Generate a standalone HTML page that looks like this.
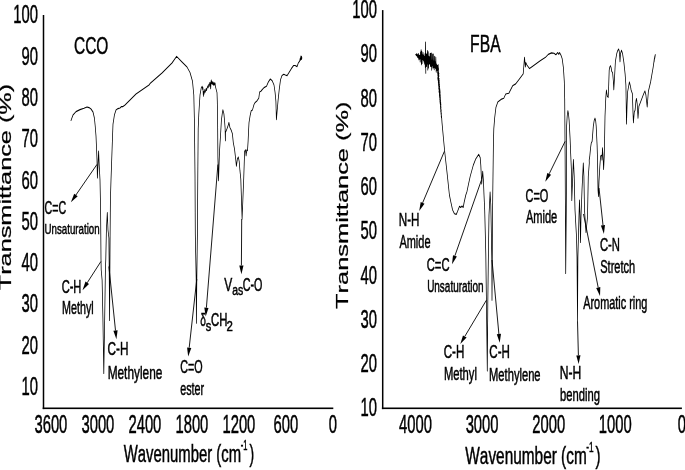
<!DOCTYPE html>
<html><head><meta charset="utf-8"><title>FTIR spectra</title>
<style>html,body{margin:0;padding:0;background:#fff}svg{display:block}text{font-family:"Liberation Sans",sans-serif;fill:#000;stroke:#000;stroke-width:.5px;font-kerning:none}</style>
</head><body>
<svg width="685" height="470" viewBox="0 0 685 470">
<rect width="685" height="470" fill="#fff"/>
<rect x="42.75" y="15.0" width="1.5" height="394.1" fill="#000"/>
<rect x="42.7" y="407.5" width="290.6" height="1.6" fill="#000"/>
<text transform="translate(13.31,23.45) scale(0.578,1)" font-size="25.60">100</text>
<text transform="translate(21.54,64.73) scale(0.578,1)" font-size="25.60">90</text>
<text transform="translate(21.54,106.01) scale(0.578,1)" font-size="25.60">80</text>
<text transform="translate(21.54,147.29) scale(0.578,1)" font-size="25.60">70</text>
<text transform="translate(21.54,188.57) scale(0.578,1)" font-size="25.60">60</text>
<text transform="translate(21.54,229.85) scale(0.578,1)" font-size="25.60">50</text>
<text transform="translate(21.54,271.13) scale(0.578,1)" font-size="25.60">40</text>
<text transform="translate(21.54,312.41) scale(0.578,1)" font-size="25.60">30</text>
<text transform="translate(21.54,353.69) scale(0.578,1)" font-size="25.60">20</text>
<text transform="translate(21.54,394.97) scale(0.578,1)" font-size="25.60">10</text>
<text transform="translate(34.44,433.10) scale(0.578,1)" font-size="25.60">3600</text>
<text transform="translate(81.44,433.10) scale(0.578,1)" font-size="25.60">3000</text>
<text transform="translate(128.44,433.10) scale(0.578,1)" font-size="25.60">2400</text>
<text transform="translate(175.44,433.10) scale(0.578,1)" font-size="25.60">1800</text>
<text transform="translate(222.44,433.10) scale(0.578,1)" font-size="25.60">1200</text>
<text transform="translate(273.56,433.10) scale(0.578,1)" font-size="25.60">600</text>
<text transform="translate(328.79,433.10) scale(0.578,1)" font-size="25.60">0</text>
<text transform="translate(123.83,461.70) scale(0.620,1)" font-size="23.98">Wavenumber (cm</text>
<text transform="translate(240.77,449.70) scale(0.524,1)" font-size="14.39">-1</text>
<text transform="translate(249.62,461.70) scale(0.582,1)" font-size="23.98">)</text>
<text transform="translate(11.45,290.3) rotate(-90) scale(1,0.655)" font-size="25.3" style="stroke-width:.35px">Transmittance (%)</text>
<text transform="translate(74.02,53.90) scale(0.633,1)" font-size="24.42">CCO</text>
<text transform="translate(44.46,213.90) scale(0.583,1)" font-size="18.31">C=C</text>
<text transform="translate(44.55,234.20) scale(0.631,1)" font-size="15.41">Unsaturation</text>
<text transform="translate(61.64,292.60) scale(0.612,1)" font-size="18.17">C-H</text>
<text transform="translate(62.02,314.20) scale(0.607,1)" font-size="17.73">Methyl</text>
<text transform="translate(107.60,354.50) scale(0.634,1)" font-size="18.60">C-H</text>
<text transform="translate(107.63,378.90) scale(0.653,1)" font-size="18.17">Methylene</text>
<text transform="translate(180.15,372.60) scale(0.593,1)" font-size="18.17">C=O</text>
<text transform="translate(180.24,395.00) scale(0.593,1)" font-size="18.17">ester</text>
<text transform="translate(200.37,326.40) scale(0.564,1)" font-size="18.02">δ</text>
<text transform="translate(205.69,330.60) scale(0.765,1)" font-size="14.39">s</text>
<text transform="translate(211.02,326.40) scale(0.651,1)" font-size="17.44">CH</text>
<text transform="translate(226.43,330.60) scale(0.793,1)" font-size="14.39">2</text>
<text transform="translate(224.25,290.50) scale(0.677,1)" font-size="17.73">V</text>
<text transform="translate(232.16,295.00) scale(0.725,1)" font-size="14.39">as</text>
<text transform="translate(242.75,290.60) scale(0.608,1)" font-size="17.73">C-O</text>
<line x1="97.0" y1="164.4" x2="75.9" y2="195.0" stroke="#000" stroke-width="0.9"/>
<polygon points="70.9,202.3 74.2,193.8 77.7,196.2" fill="#000"/>
<line x1="100.9" y1="261.5" x2="87.2" y2="282.8" stroke="#000" stroke-width="0.9"/>
<polygon points="82.5,290.2 85.5,281.6 89.0,283.9" fill="#000"/>
<line x1="108.9" y1="266.5" x2="115.5" y2="330.5" stroke="#000" stroke-width="0.9"/>
<polygon points="116.4,339.3 113.4,330.8 117.6,330.3" fill="#000"/>
<line x1="196.8" y1="279.0" x2="189.2" y2="347.7" stroke="#000" stroke-width="0.9"/>
<polygon points="188.2,356.5 187.1,347.5 191.3,348.0" fill="#000"/>
<line x1="217.9" y1="164.5" x2="206.4" y2="307.7" stroke="#000" stroke-width="0.9"/>
<polygon points="205.7,316.5 204.3,307.6 208.5,307.9" fill="#000"/>
<line x1="241.7" y1="219.0" x2="241.4" y2="265.4" stroke="#000" stroke-width="0.9"/>
<polygon points="241.4,274.2 239.3,265.4 243.5,265.4" fill="#000"/>
<path transform="scale(1,1.5)" d="M71.0,80.27 L73.0,76.67 L76.0,74.40 L80.0,73.07 L84.0,72.20 L87.0,71.33 L89.0,71.73 L91.0,72.67 L93.0,74.67 L94.4,78.67 L95.2,84.00 L96.0,90.67 L96.6,100.00 L97.0,106.67 L97.4,118.67 L98.0,110.00 L98.6,100.67 L99.2,110.00 L100.0,120.00 L100.6,140.00 L101.0,172.67 L101.2,180.00 L102.1,186.67 L102.9,212.00 L103.8,249.00 L104.7,212.00 L105.4,180.00 L105.8,172.67 L106.4,153.33 L107.3,141.67 L108.0,153.33 L108.9,158.67 L109.2,180.00 L109.6,213.67 L109.9,180.00 L110.1,158.00 L110.4,133.33 L111.0,120.00 L112.4,93.33 L113.0,82.67 L114.4,76.67 L116.0,73.33 L118.0,72.40 L120.0,72.00 L121.5,71.00 L123.0,71.07 L125.0,70.00 L136.0,62.67 L149.0,56.67 L150.0,55.73 L162.0,48.67 L172.0,42.00 L176.6,37.60 L182.0,41.33 L187.0,44.67 L190.0,48.33 L192.5,54.20 L193.8,63.33 L194.4,80.00 L195.0,116.67 L195.3,156.00 L196.2,186.67 L196.4,215.47 L196.8,186.67 L197.4,156.00 L197.8,116.67 L198.2,86.00 L198.8,76.00 L200.0,63.33 L201.3,58.40 L202.2,57.53 L202.6,59.67 L202.9,58.33 L203.2,62.00 L203.4,64.20 L203.7,61.00 L204.0,62.80 L204.4,61.33 L204.8,59.73 L205.1,61.47 L205.7,60.47 L206.2,59.00 L206.5,60.33 L206.9,59.20 L207.8,57.33 L208.2,58.40 L208.8,56.27 L209.3,57.47 L209.7,55.20 L210.1,55.00 L210.4,57.33 L210.7,59.20 L211.0,54.67 L211.3,53.33 L211.7,55.87 L212.0,54.33 L212.6,56.27 L213.0,54.67 L213.4,56.80 L214.1,55.00 L214.5,56.67 L215.1,55.47 L215.4,57.73 L215.7,58.40 L217.0,61.73 L217.3,67.60 L217.6,80.00 L217.9,105.07 L218.5,120.40 L219.5,100.93 L220.7,88.33 L221.4,80.13 L222.4,75.13 L222.9,73.27 L223.9,75.93 L224.5,80.13 L225.1,85.33 L225.4,93.80 L225.5,88.33 L227.0,85.87 L228.3,83.33 L228.9,81.67 L229.9,85.00 L231.4,87.13 L232.4,89.20 L233.3,95.07 L234.5,99.27 L235.8,106.80 L236.4,110.80 L237.4,105.93 L238.3,104.67 L239.2,107.60 L239.9,113.47 L240.8,119.33 L242.1,146.00 L243.7,119.33 L244.2,109.27 L244.6,100.93 L245.5,99.93 L246.1,103.87 L246.7,100.07 L247.5,100.47 L248.1,94.20 L248.6,86.67 L249.0,81.80 L250.2,76.80 L251.2,73.87 L252.5,73.27 L254.0,69.67 L255.2,68.27 L257.1,67.13 L258.8,65.47 L259.6,61.33 L260.9,60.87 L262.1,59.87 L264.0,58.40 L266.5,57.53 L268.4,54.60 L270.3,52.67 L272.2,53.80 L274.0,56.67 L275.1,61.73 L275.9,67.60 L276.4,79.73 L277.4,72.00 L278.1,66.80 L279.3,59.27 L280.5,53.20 L282.0,50.40 L283.8,49.53 L285.3,50.00 L287.1,50.40 L289.1,48.20 L291.4,45.67 L293.6,43.67 L295.1,43.67 L297.1,44.40 L298.2,42.13 L299.7,40.67 L300.2,38.93 L300.4,40.13 L300.9,37.33 L301.1,39.53 L301.5,37.60 L301.9,38.60 L301.4,39.60 L301.2,38.20 L300.7,39.87 L301.0,38.00" fill="none" stroke="#000" stroke-width="0.75" stroke-linejoin="round" stroke-linecap="round"/>
<rect x="381.95" y="10.1" width="1.5" height="399" fill="#000"/>
<rect x="381.9" y="407.5" width="300" height="1.6" fill="#000"/>
<text transform="translate(352.31,18.15) scale(0.578,1)" font-size="25.60">100</text>
<text transform="translate(360.54,62.40) scale(0.578,1)" font-size="25.60">90</text>
<text transform="translate(360.54,106.65) scale(0.578,1)" font-size="25.60">80</text>
<text transform="translate(360.54,150.90) scale(0.578,1)" font-size="25.60">70</text>
<text transform="translate(360.54,195.15) scale(0.578,1)" font-size="25.60">60</text>
<text transform="translate(360.54,239.40) scale(0.578,1)" font-size="25.60">50</text>
<text transform="translate(360.54,283.65) scale(0.578,1)" font-size="25.60">40</text>
<text transform="translate(360.54,327.90) scale(0.578,1)" font-size="25.60">30</text>
<text transform="translate(360.54,372.15) scale(0.578,1)" font-size="25.60">20</text>
<text transform="translate(360.54,416.40) scale(0.578,1)" font-size="25.60">10</text>
<text transform="translate(399.04,433.10) scale(0.578,1)" font-size="25.60">4000</text>
<text transform="translate(465.64,433.10) scale(0.578,1)" font-size="25.60">3000</text>
<text transform="translate(532.24,433.10) scale(0.578,1)" font-size="25.60">2000</text>
<text transform="translate(598.84,433.10) scale(0.578,1)" font-size="25.60">1000</text>
<text transform="translate(677.79,433.10) scale(0.578,1)" font-size="25.60">0</text>
<text transform="translate(465.33,463.60) scale(0.642,1)" font-size="23.98">Wavenumber (cm</text>
<text transform="translate(586.33,451.60) scale(0.576,1)" font-size="14.39">-1</text>
<text transform="translate(595.61,463.60) scale(0.629,1)" font-size="23.98">)</text>
<text transform="translate(348.0,308.9) rotate(-90) scale(1,0.63)" font-size="25.4" style="stroke-width:.35px">Transmittance (%)</text>
<text transform="translate(470.11,51.70) scale(0.639,1)" font-size="24.56">FBA</text>
<text transform="translate(398.84,225.80) scale(0.646,1)" font-size="18.02">N-H</text>
<text transform="translate(399.38,248.30) scale(0.614,1)" font-size="17.88">Amide</text>
<text transform="translate(426.73,271.20) scale(0.614,1)" font-size="18.31">C=C</text>
<text transform="translate(427.13,291.70) scale(0.635,1)" font-size="15.70">Unsaturation</text>
<text transform="translate(443.71,357.50) scale(0.644,1)" font-size="18.02">C-H</text>
<text transform="translate(443.88,379.80) scale(0.633,1)" font-size="17.73">Methyl</text>
<text transform="translate(489.31,357.60) scale(0.644,1)" font-size="18.02">C-H</text>
<text transform="translate(489.08,381.00) scale(0.630,1)" font-size="17.73">Methylene</text>
<text transform="translate(525.54,201.90) scale(0.590,1)" font-size="18.60">C=O</text>
<text transform="translate(525.88,223.20) scale(0.615,1)" font-size="18.02">Amide</text>
<text transform="translate(559.70,379.10) scale(0.685,1)" font-size="17.73">N-H</text>
<text transform="translate(559.98,400.50) scale(0.644,1)" font-size="17.44">bending</text>
<text transform="translate(599.93,250.50) scale(0.617,1)" font-size="18.31">C-N</text>
<text transform="translate(600.20,272.80) scale(0.613,1)" font-size="18.02">Stretch</text>
<text transform="translate(583.18,309.20) scale(0.615,1)" font-size="17.73">Aromatic ring</text>
<line x1="444.4" y1="151.3" x2="422.6" y2="202.9" stroke="#000" stroke-width="0.9"/>
<polygon points="419.2,211.0 420.7,202.1 424.5,203.7" fill="#000"/>
<line x1="481.4" y1="180.2" x2="454.9" y2="255.8" stroke="#000" stroke-width="0.9"/>
<polygon points="452.0,264.2 453.0,255.2 456.9,256.5" fill="#000"/>
<line x1="486.4" y1="300.2" x2="464.8" y2="336.4" stroke="#000" stroke-width="0.9"/>
<polygon points="460.3,344.0 463.0,335.4 466.6,337.5" fill="#000"/>
<line x1="492.0" y1="260.0" x2="498.9" y2="334.0" stroke="#000" stroke-width="0.9"/>
<polygon points="499.7,342.8 496.8,334.2 501.0,333.8" fill="#000"/>
<line x1="565.1" y1="141.4" x2="549.2" y2="173.8" stroke="#000" stroke-width="0.9"/>
<polygon points="545.3,181.7 547.3,172.9 551.1,174.7" fill="#000"/>
<line x1="577.5" y1="321.5" x2="578.4" y2="355.3" stroke="#000" stroke-width="0.9"/>
<polygon points="578.6,364.1 576.3,355.4 580.5,355.2" fill="#000"/>
<line x1="583.5" y1="214.0" x2="598.2" y2="287.5" stroke="#000" stroke-width="0.9"/>
<polygon points="600.0,296.1 596.2,287.9 600.3,287.0" fill="#000"/>
<line x1="599.0" y1="188.0" x2="603.0" y2="225.2" stroke="#000" stroke-width="0.9"/>
<polygon points="603.9,234.0 600.9,225.5 605.0,225.0" fill="#000"/>
<path transform="scale(1,1.5)" d="M415.7,36.40 L416.0,36.27 L416.3,36.97 L416.6,35.82 L417.0,37.49 L417.3,36.13 L417.6,38.21 L417.9,36.64 L418.2,38.69 L418.6,35.75 L418.9,39.86 L419.2,36.87 L419.5,39.23 L419.8,36.86 L420.2,41.23 L420.5,34.67 L420.8,39.13 L421.1,33.17 L421.4,43.20 L421.8,34.22 L422.1,42.34 L422.4,36.61 L422.7,39.80 L423.0,34.98 L423.4,40.22 L423.7,36.76 L424.0,41.31 L424.3,37.70 L424.6,42.63 L425.0,35.80 L425.3,44.76 L425.6,28.00 L425.8,48.87 L425.6,35.59 L425.9,44.00 L426.2,35.87 L426.6,44.37 L426.9,36.27 L427.2,42.64 L427.5,33.64 L427.8,46.61 L428.2,34.62 L428.5,45.27 L428.8,37.57 L429.1,42.95 L429.4,37.94 L429.8,42.32 L430.1,35.76 L430.4,44.17 L430.7,35.61 L431.0,44.26 L431.4,35.31 L431.7,46.71 L432.0,40.26 L432.3,43.73 L432.6,36.07 L433.0,45.24 L433.3,36.00 L433.6,45.12 L433.9,40.67 L434.2,46.48 L434.6,37.54 L434.9,44.98 L435.2,41.30 L435.5,45.65 L435.8,38.12 L436.2,48.05 L436.5,42.65 L436.8,46.28 L437.1,43.46 L437.4,46.06 L436.8,44.18 L438.3,43.25 L437.2,45.47 L438.2,43.66 L437.3,45.89 L438.3,45.02 L437.0,47.00 L438.4,44.73 L437.4,47.33 L438.7,45.86 L437.6,48.66 L438.5,47.24 L437.4,48.73 L438.6,48.28 L437.8,49.72 L438.6,48.13 L437.8,50.32 L439.0,49.06 L437.8,51.47 L438.8,50.34 L437.7,52.15 L438.9,51.02 L437.9,53.01 L438.9,50.48 L438.0,53.40 L439.1,52.63 L438.3,54.50 L439.1,52.36 L438.3,55.09 L439.3,53.78 L438.5,55.72 L439.2,54.62 L438.4,56.59 L439.4,55.27 L438.4,56.67 L439.3,56.02 L438.7,57.26 L439.4,56.59 L438.7,58.06 L439.6,56.45 L438.7,59.32 L439.7,57.69 L439.0,59.44 L439.6,57.88 L439.0,61.10 L439.7,59.07 L439.1,61.60 L439.8,59.20 L439.3,62.15 L440.0,60.10 L439.3,63.04 L440.1,60.81 L439.4,63.75 L440.2,61.61 L439.5,64.59 L440.2,62.85 L439.6,64.92 L440.2,63.52 L439.8,65.91 L440.4,63.80 L439.7,66.39 L440.4,65.03 L439.9,67.57 L440.4,65.48 L440.1,68.07 L440.5,67.08 L440.0,68.70 L440.6,66.67 L440.2,68.94 L440.6,67.80 L440.3,69.84 L440.8,68.57 L440.4,71.29 L440.8,69.29 L440.5,71.56 L440.9,69.61 L440.5,72.25 L440.9,71.34 L440.7,73.10 L441.0,71.19 L440.7,74.28 L441.1,73.05 L440.8,74.34 L441.1,73.38 L440.9,75.29 L441.2,73.40 L441.0,75.99 L441.2,75.48 L441.1,76.31 L441.4,75.32 L441.2,77.79 L441.4,76.77 L441.3,77.76 L441.5,77.34 L441.4,78.51 L441.6,77.72 L442.0,81.73 L443.6,93.33 L444.8,101.67 L446.9,114.27 L449.4,130.00 L450.7,134.20 L452.6,140.00 L454.5,142.53 L456.3,142.93 L457.6,140.87 L459.5,137.53 L460.7,138.33 L462.0,137.33 L463.2,138.33 L464.1,135.00 L465.8,130.00 L467.0,127.60 L468.3,123.47 L470.2,117.60 L473.3,110.07 L475.8,105.87 L478.7,102.93 L480.2,105.07 L480.8,110.07 L481.4,118.40 L481.7,122.60 L482.7,114.27 L483.4,120.00 L484.0,130.00 L484.7,140.00 L485.8,169.33 L486.4,200.00 L487.3,247.33 L487.8,202.67 L488.4,169.33 L489.0,143.33 L489.5,136.67 L490.1,128.07 L490.8,136.67 L491.3,153.33 L491.8,173.33 L492.0,200.13 L492.3,173.33 L492.4,153.33 L492.7,132.67 L493.4,96.00 L493.8,85.93 L494.7,78.40 L495.9,71.73 L497.8,67.93 L501.0,66.27 L503.8,65.53 L505.7,62.67 L508.8,62.20 L512.6,57.20 L515.7,55.93 L519.5,52.60 L523.2,49.27 L523.9,43.40 L524.5,38.20 L525.4,44.67 L525.8,41.73 L527.0,43.40 L529.5,45.73 L532.7,44.20 L540.2,40.47 L545.2,38.40 L548.3,36.27 L551.5,35.27 L554.0,35.47 L555.9,36.53 L557.8,35.00 L558.8,36.27 L559.6,35.00 L560.9,36.73 L562.2,39.20 L563.4,45.07 L564.3,54.27 L564.7,66.00 L565.1,102.67 L565.4,140.00 L565.7,182.27 L566.3,140.00 L566.6,102.67 L566.4,90.00 L566.6,84.27 L567.2,77.33 L567.9,73.80 L568.5,76.00 L569.1,80.07 L570.1,92.60 L570.7,102.67 L571.4,113.33 L571.8,133.67 L572.6,120.00 L573.4,106.33 L574.2,117.33 L575.0,140.00 L576.5,158.00 L577.0,171.33 L577.5,214.33 L577.9,171.33 L579.0,143.33 L579.5,133.33 L580.0,143.33 L580.5,161.67 L581.0,144.67 L582.0,126.67 L583.3,108.67 L583.9,117.33 L584.5,140.00 L586.0,155.00 L587.5,144.67 L588.3,117.33 L589.3,108.67 L589.2,106.67 L589.7,104.67 L590.6,98.47 L591.2,95.53 L592.1,94.27 L593.3,84.27 L594.2,80.33 L595.0,78.80 L595.7,80.67 L596.2,84.27 L597.1,96.80 L597.5,106.07 L598.0,126.67 L598.5,131.00 L599.0,120.93 L599.8,111.20 L600.6,104.07 L601.7,103.53 L602.0,106.60 L602.5,98.47 L603.0,103.53 L603.6,113.00 L604.3,103.53 L604.6,92.60 L605.0,77.60 L605.8,65.00 L606.4,60.00 L607.3,64.20 L608.2,64.87 L608.5,60.87 L609.2,46.73 L609.8,44.67 L610.4,43.80 L611.1,45.00 L611.7,47.60 L612.6,48.40 L613.3,53.47 L613.8,59.73 L614.6,50.93 L615.4,40.87 L616.7,35.87 L617.7,33.67 L618.6,32.67 L619.2,34.00 L619.6,36.73 L620.0,41.07 L620.5,35.87 L621.5,33.53 L622.6,35.87 L623.9,41.73 L625.1,49.27 L625.9,56.80 L626.2,69.20 L626.5,82.60 L627.1,69.20 L627.6,61.27 L628.4,58.47 L629.4,54.67 L630.5,57.60 L631.1,60.00 L632.4,62.53 L632.9,73.40 L633.4,81.73 L634.3,74.67 L635.1,73.40 L635.9,67.53 L636.5,65.67 L637.2,69.20 L638.0,78.80 L638.9,70.87 L639.9,69.20 L641.8,65.87 L643.7,62.53 L644.9,60.67 L645.9,63.33 L646.6,67.53 L647.2,71.33 L647.7,66.67 L648.4,60.87 L649.3,58.33 L650.6,54.67 L651.8,50.13 L653.1,45.07 L654.0,40.87 L654.4,38.67 L654.1,41.33 L654.7,38.00 L655.3,36.47 L654.8,38.67" fill="none" stroke="#000" stroke-width="0.75" stroke-linejoin="round" stroke-linecap="round"/>
</svg>
</body></html>
